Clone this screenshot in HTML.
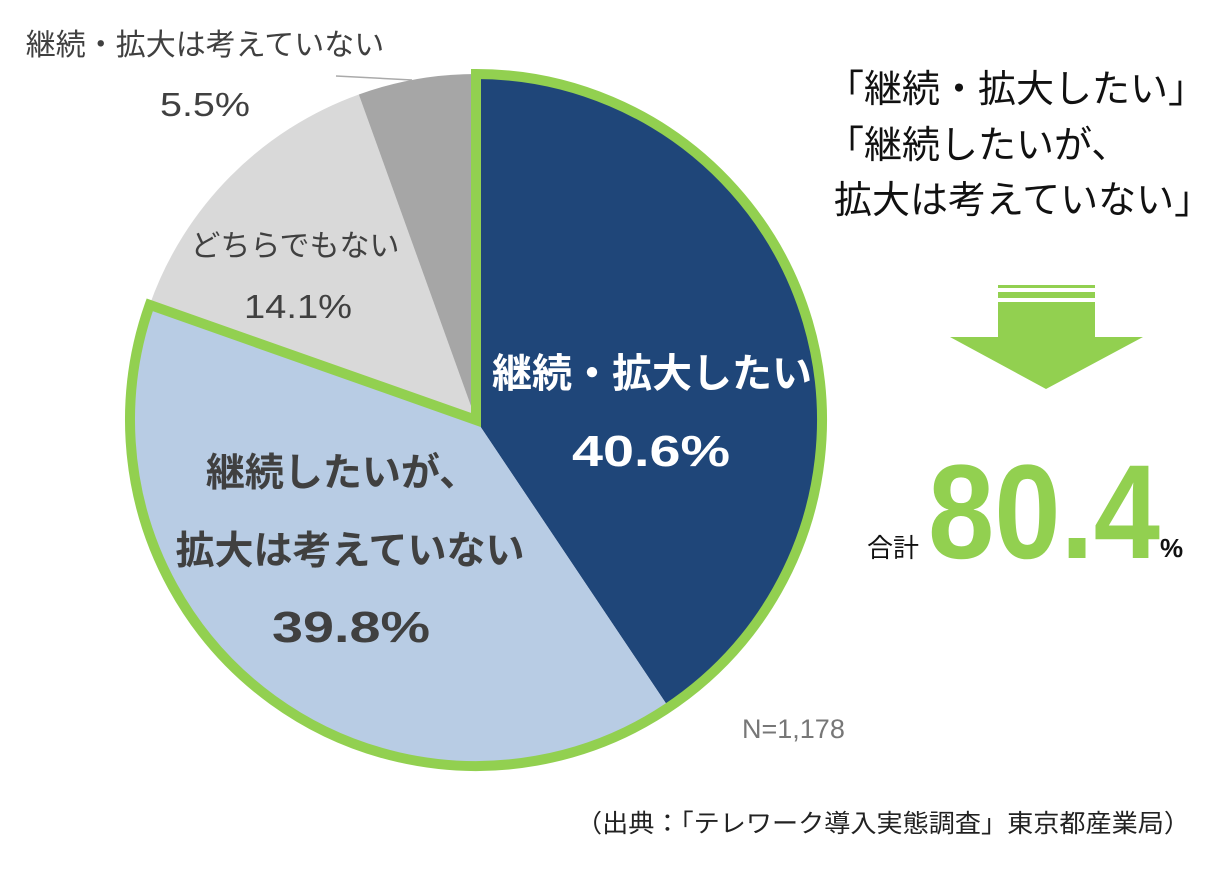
<!DOCTYPE html>
<html><head><meta charset="utf-8"><style>
body{margin:0;background:#fff;}
svg text{font-family:"Liberation Sans","Noto Sans CJK JP",sans-serif;}
</style></head><body>
<svg id="chart" width="1232" height="865" viewBox="0 0 1232 865" xmlns="http://www.w3.org/2000/svg">
<g id="slices"></g>
<line x1="336" y1="76" x2="412" y2="80" stroke="#aaa" stroke-width="1.5"/>
<text x="205" y="55" font-size="30" fill="#404040" text-anchor="middle">継続・拡大は考えていない</text>
<text x="160" y="116" font-size="33" fill="#404040" textLength="90" lengthAdjust="spacingAndGlyphs">5.5%</text>
<text x="295" y="256" font-size="30" fill="#404040" text-anchor="middle">どちらでもない</text>
<text x="244" y="318" font-size="33" fill="#404040" textLength="108" lengthAdjust="spacingAndGlyphs">14.1%</text>
<text x="652" y="387" font-size="40" font-weight="bold" fill="#fff" text-anchor="middle">継続・拡大したい</text>
<text x="572" y="466" font-size="44" font-weight="bold" fill="#fff" textLength="158" lengthAdjust="spacingAndGlyphs">40.6%</text>
<text x="342" y="486" font-size="39" font-weight="bold" fill="#404040" text-anchor="middle">継続したいが、</text>
<text x="350" y="564" font-size="39" font-weight="bold" fill="#404040" text-anchor="middle">拡大は考えていない</text>
<text x="272" y="642" font-size="44" font-weight="bold" fill="#404040" textLength="158" lengthAdjust="spacingAndGlyphs">39.8%</text>
<text x="742" y="738" font-size="27" fill="#777">N=1,178</text>
<text x="826" y="102" font-size="38" fill="#111">「継続・拡大したい」</text>
<text x="826" y="158" font-size="38" fill="#111">「継続したいが、</text>
<text x="834" y="213" font-size="38" fill="#111">拡大は考えていない」</text>
<g fill="#92d050">
<rect x="998" y="285" width="97" height="3"/>
<rect x="998" y="292" width="97" height="6"/>
<polygon points="998,302 1095,302 1095,337 1143,337 1046,389 950,337 998,337"/>
</g>
<text x="867" y="557" font-size="26" fill="#111">合計</text>
<text x="928" y="558" font-size="134" font-weight="bold" fill="#92d050" textLength="232" lengthAdjust="spacingAndGlyphs">80.4</text>
<text x="1160" y="557" font-size="26" font-weight="bold" fill="#111">%</text>
<text x="576" y="832" font-size="25" fill="#222" textLength="614" lengthAdjust="spacingAndGlyphs">（出典：「テレワーク導入実態調査」東京都産業局）</text>
</svg>
<script>
const categories = ['継続・拡大したい','継続したいが、拡大は考えていない','どちらでもない','継続・拡大は考えていない'];
const values = [40.6, 39.8, 14.1, 5.5];
const colors = ['#1f4679','#b8cce4','#d9d9d9','#a6a6a6'];
const highlighted = [0, 1];
const cx = 476, cy = 420, r = 346;
const NS = 'http://www.w3.org/2000/svg';
const total = values.reduce((a,b)=>a+b,0);
function angle(v){ return v/total*2*Math.PI - Math.PI/2; }
function pt(a){ return [cx + r*Math.cos(a), cy + r*Math.sin(a)]; }
function wedge(a0,a1){
  const p0 = pt(a0), p1 = pt(a1);
  const large = (a1-a0) > Math.PI ? 1 : 0;
  return `M${cx},${cy} L${p0[0]},${p0[1]} A${r},${r} 0 ${large} 1 ${p1[0]},${p1[1]} Z`;
}
const g = document.getElementById('slices');
let cum = 0;
values.forEach((v,i)=>{
  const a0 = angle(cum), a1 = angle(cum+v);
  cum += v;
  const p = document.createElementNS(NS,'path');
  p.setAttribute('d', wedge(a0,a1));
  p.setAttribute('fill', colors[i]);
  
  
  g.appendChild(p);
});
let hs = 0;
highlighted.forEach(i=>{ hs += values[i]; });
const outline = document.createElementNS(NS,'path');
outline.setAttribute('d', wedge(angle(0), angle(hs)));
outline.setAttribute('fill','none');
outline.setAttribute('stroke','#92d050');
outline.setAttribute('stroke-width','10');
outline.setAttribute('stroke-linejoin','miter');


g.appendChild(outline);
</script>
</body></html>
